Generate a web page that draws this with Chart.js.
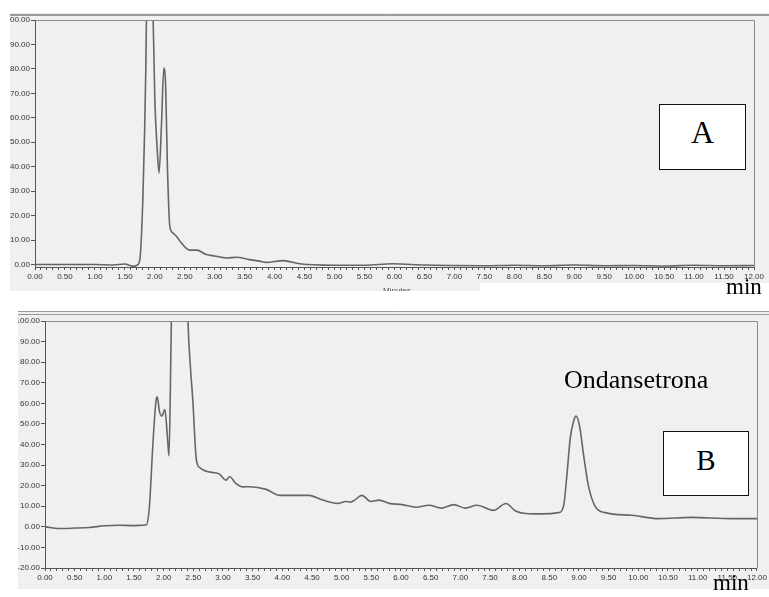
<!DOCTYPE html>
<html>
<head>
<meta charset="utf-8">
<script src="https://cdn.jsdelivr.net/npm/chart.js@4.4.1/dist/chart.umd.min.js"></script>
<style>
  html, body { margin: 0; padding: 0; background: #ffffff; }
  body { width: 769px; height: 597px; position: relative; overflow: hidden; }
  canvas { position: absolute; display: block; }
  #cA { left: 10px; top: 13px; }
  #cB { left: 18px; top: 311px; }
  .txt { position: absolute; font-family: "Liberation Serif", "Times New Roman", serif; color: #000; line-height: 1; white-space: nowrap; z-index: 5; }
  .box { position: absolute; background: #fff; border: 1px solid #111; box-sizing: border-box; z-index: 4; }
  .blank { position: absolute; background: #fff; z-index: 3; }
</style>
</head>
<body>
<canvas id="cA" width="759" height="278"></canvas>
<canvas id="cB" width="751" height="278"></canvas>
<div class="blank" style="left:480px;top:283px;width:289px;height:8px;"></div>
<div class="box" style="left:659px;top:104px;width:87px;height:66px;"></div>
<div class="txt" style="left:659px;top:116px;width:87px;text-align:center;font-size:32px;">A</div>
<div class="txt" style="left:726px;top:275px;font-size:23px;">min</div>
<div class="txt" style="left:564px;top:367px;font-size:26px;">Ondansetrona</div>
<div class="box" style="left:663px;top:431px;width:86px;height:65px;"></div>
<div class="txt" style="left:663px;top:446px;width:86px;text-align:center;font-size:29px;">B</div>
<div class="txt" style="left:713px;top:571px;font-size:23px;">min</div>
<script>
// ---- Chromatogram A (retention time in min, response) ----
const timeA = [0, 0.5, 1.0, 1.3, 1.5, 1.6, 1.65, 1.7, 1.75, 1.8, 1.83, 1.85, 1.88, 1.92, 1.96, 2.0, 2.04, 2.07, 2.11, 2.15, 2.18, 2.21, 2.25, 2.3, 2.36, 2.44, 2.58, 2.7, 2.86, 3.0, 3.2, 3.36, 3.58, 3.75, 3.86, 4.14, 4.42, 4.97, 5.5, 5.97, 6.5, 7.0, 7.5, 8.0, 8.5, 9.0, 9.5, 10.0, 10.5, 11.0, 11.5, 12.0];
const respA = [0, 0, 0, -0.2, 0.2, -0.5, -0.7, -0.3, 2, 26.6, 55, 81, 140, 170, 115, 67.5, 47, 37.5, 56.6, 80.4, 73, 40.2, 15.7, 13, 11.6, 8.9, 5.9, 5.9, 4.1, 3.5, 2.7, 3, 2, 1.4, 0.9, 1.6, 0.3, -0.3, -0.3, 0.3, -0.2, -0.4, -0.5, -0.3, -0.5, -0.2, -0.5, -0.4, -0.6, -0.3, -0.5, -0.4];

// ---- Chromatogram B ----
const timeB = [0, 0.25, 0.5, 0.75, 1.0, 1.25, 1.5, 1.65, 1.71, 1.76, 1.82, 1.87, 1.89, 1.93, 1.97, 2.02, 2.06, 2.09, 2.12, 2.15, 2.2, 2.3, 2.38, 2.41, 2.45, 2.49, 2.55, 2.61, 2.72, 2.83, 2.94, 3.05, 3.11, 3.22, 3.33, 3.45, 3.73, 3.95, 4.17, 4.45, 4.68, 4.93, 5.07, 5.15, 5.22, 5.34, 5.49, 5.63, 5.8, 6.02, 6.25, 6.47, 6.69, 6.89, 7.08, 7.28, 7.56, 7.77, 7.93, 8.1, 8.37, 8.66, 8.74, 8.8, 8.85, 8.91, 8.95, 9.01, 9.08, 9.16, 9.27, 9.44, 9.89, 10.34, 10.9, 11.57, 12.0];
const respB = [0, -0.8, -0.6, -0.3, 0.5, 0.8, 0.6, 0.8, 1, 10, 41, 61, 63.2, 56, 53.8, 57, 45, 34.4, 81, 140, 200, 200, 140, 100, 78, 62, 32.8, 28.7, 27, 26.4, 25.6, 22.7, 24.3, 21, 19.4, 19.5, 18.2, 15.3, 15.3, 15.3, 13, 11.4, 12.3, 12, 13, 15.3, 12.3, 13, 11.4, 10.8, 9.5, 10.5, 9.1, 10.8, 9.1, 10.5, 8, 11.3, 7.7, 6.5, 6.3, 6.9, 10.1, 26.3, 42.5, 51.4, 53.8, 48.9, 34.4, 19.8, 10.1, 6.9, 5.6, 4, 4.6, 4, 4];

// ---- Tick labels ----
const xTickLabels = ['0.00','0.50','1.00','1.50','2.00','2.50','3.00','3.50','4.00','4.50','5.00','5.50','6.00','6.50','7.00','7.50','8.00','8.50','9.00','9.50','10.00','10.50','11.00','11.50','12.00'];
const yTickValuesA = [0, 10, 20, 30, 40, 50, 60, 70, 80, 90, 100];
const yTickLabelsA = ['0.00','10.00','20.00','30.00','40.00','50.00','60.00','70.00','80.00','90.00','100.00'];
const yTickValuesB = [-20, -10, 0, 10, 20, 30, 40, 50, 60, 70, 80, 90, 100];
const yTickLabelsB = ['-20.00','-10.00','0.00','10.00','20.00','30.00','40.00','50.00','60.00','70.00','80.00','90.00','100.00'];

const TICK_FONT = { family: 'Liberation Sans, Arial, sans-serif', size: 8 };
const TICK_COLOR = '#333333';

function panelPlugin(opts) {
  return {
    id: 'panel' + opts.name,
    beforeDraw(chart) {
      const ctx = chart.ctx;
      ctx.save();
      ctx.fillStyle = '#f0f0f0';
      ctx.fillRect(0, 0, chart.width, chart.height);
      ctx.strokeStyle = '#9a9a9a';
      ctx.lineWidth = 1;
      opts.topLines.forEach(y => {
        ctx.beginPath(); ctx.moveTo(0, y); ctx.lineTo(chart.width, y); ctx.stroke();
      });
      ctx.restore();
    },
    afterDraw(chart) {
      const a = chart.chartArea, ctx = chart.ctx;
      ctx.save();
      ctx.strokeStyle = '#8c8c8c';
      ctx.lineWidth = 1;
      ctx.beginPath();
      ctx.moveTo(Math.round(a.left) + 0.5, Math.round(a.top) + 0.5);
      ctx.lineTo(Math.round(a.right) + 0.5, Math.round(a.top) + 0.5);
      ctx.lineTo(Math.round(a.right) + 0.5, Math.round(a.bottom) + 0.5);
      ctx.stroke();
      if (opts.footer) {
        ctx.fillStyle = '#555';
        ctx.font = '8px Liberation Sans, Arial, sans-serif';
        ctx.textAlign = 'center';
        ctx.textBaseline = 'top';
        ctx.fillText(opts.footer, opts.footerX, opts.footerY);
      }
      ctx.restore();
    }
  };
}

function makeChart(id, times, resp, yMin, yVals, yLabels, layout, plugin) {
  const points = times.map((t, i) => ({ x: t, y: resp[i] }));
  return new Chart(document.getElementById(id), {
    type: 'line',
    data: { datasets: [{ data: points, borderColor: '#666666', borderWidth: 1.6, pointRadius: 0, fill: false, cubicInterpolationMode: 'monotone' }] },
    options: {
      responsive: false, animation: false, devicePixelRatio: 1,
      layout: { padding: layout.padding },
      plugins: { legend: { display: false }, tooltip: { enabled: false } },
      scales: {
        x: {
          type: 'linear', min: 0, max: 12,
          afterFit: s => { s.height = layout.xHeight; },
          afterBuildTicks: s => { const t = []; for (let i = 0; i <= 120; i++) t.push({ value: i / 10 }); s.ticks = t; },
          ticks: {
            autoSkip: false, maxRotation: 0, minRotation: 0, padding: 2, font: TICK_FONT, color: TICK_COLOR,
            callback: v => { const k = Math.round(v * 2); return Math.abs(v * 2 - k) < 1e-6 ? xTickLabels[k] : ''; }
          },
          grid: { drawOnChartArea: false, drawTicks: true, tickLength: 3, tickColor: '#555', tickWidth: 1 },
          border: { display: true, color: '#555', width: 1 }
        },
        y: {
          type: 'linear', min: yMin, max: 100,
          afterFit: s => { s.width = layout.yWidth; },
          afterBuildTicks: s => { s.ticks = yVals.map(v => ({ value: v })); },
          ticks: {
            autoSkip: false, padding: 1, font: TICK_FONT, color: TICK_COLOR,
            callback: v => { const i = yVals.indexOf(v); return i >= 0 ? yLabels[i] : ''; }
          },
          grid: { drawOnChartArea: false, drawTicks: true, tickLength: 4, tickColor: '#555', tickWidth: 1 },
          border: { display: true, color: '#555', width: 1 }
        }
      }
    },
    plugins: [plugin]
  });
}

makeChart('cA', timeA, respA, -1, yTickValuesA, yTickLabelsA,
  { padding: { top: 7, right: 15, left: 0, bottom: 0 }, xHeight: 24, yWidth: 25 },
  panelPlugin({ name: 'A', topLines: [1.5, 2.5], footer: 'Minutes', footerX: 387, footerY: 274 }));

makeChart('cB', timeB, respB, -20, yTickValuesB, yTickLabelsB,
  { padding: { top: 10, right: 9, left: 0, bottom: 0 }, xHeight: 21, yWidth: 27 },
  panelPlugin({ name: 'B', topLines: [0.5, 3.5] }));
</script>
</body>
</html>
